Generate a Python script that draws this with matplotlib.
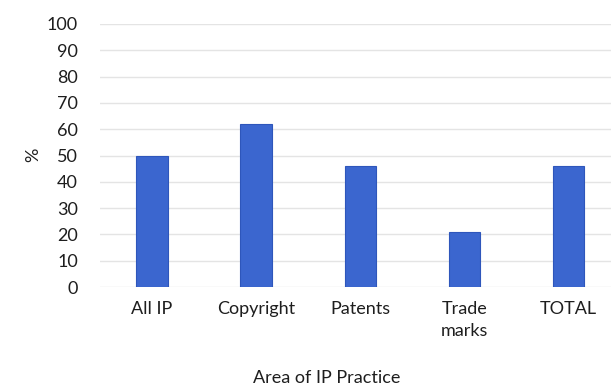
import numpy as np
import matplotlib.pyplot as plt

# share of respondents by practice area
areas = ['All IP', 'Copyright', 'Patents', 'Trade\nmarks', 'TOTAL']
pct = [50, 62, 46, 21, 46]
yticks = list(range(0, 101, 10))

plt.rcParams['font.family'] = ['Lato', 'DejaVu Sans']

fig = plt.figure(figsize=(6.11, 3.92), dpi=100)
ax = fig.add_axes([100/611, 105/392, 511/611, 263/392])

x = np.arange(len(areas))
ax.bar(x, pct, width=0.3, color='#3b66cf', edgecolor='#2e56bb', linewidth=0.8, zorder=3)

ax.set_ylim(0, 100)
ax.set_xlim(-0.5, 4.41)
ax.set_yticks(yticks)
ax.set_yticklabels([str(v) for v in yticks], fontsize=13, color='#1e1e1e')
ax.set_xticks(x)
ax.set_xticklabels(areas, fontsize=13, color='#1e1e1e', linespacing=1.5)
ax.tick_params(length=0)
ax.tick_params(axis='y', pad=16)
ax.tick_params(axis='x', pad=10)
ax.yaxis.grid(True, color='#e4e4e4', linewidth=1, zorder=0)
for s in ax.spines.values():
    s.set_visible(False)

fig.text(33/611, 1 - 155/392, '%', rotation=90, fontsize=13, color='#1e1e1e',
         ha='center', va='center')
fig.text(327/611, 1 - 378/392, 'Area of IP Practice', fontsize=13, color='#1e1e1e',
         ha='center', va='center')

fig.savefig('out.png', dpi=100, facecolor='white')
